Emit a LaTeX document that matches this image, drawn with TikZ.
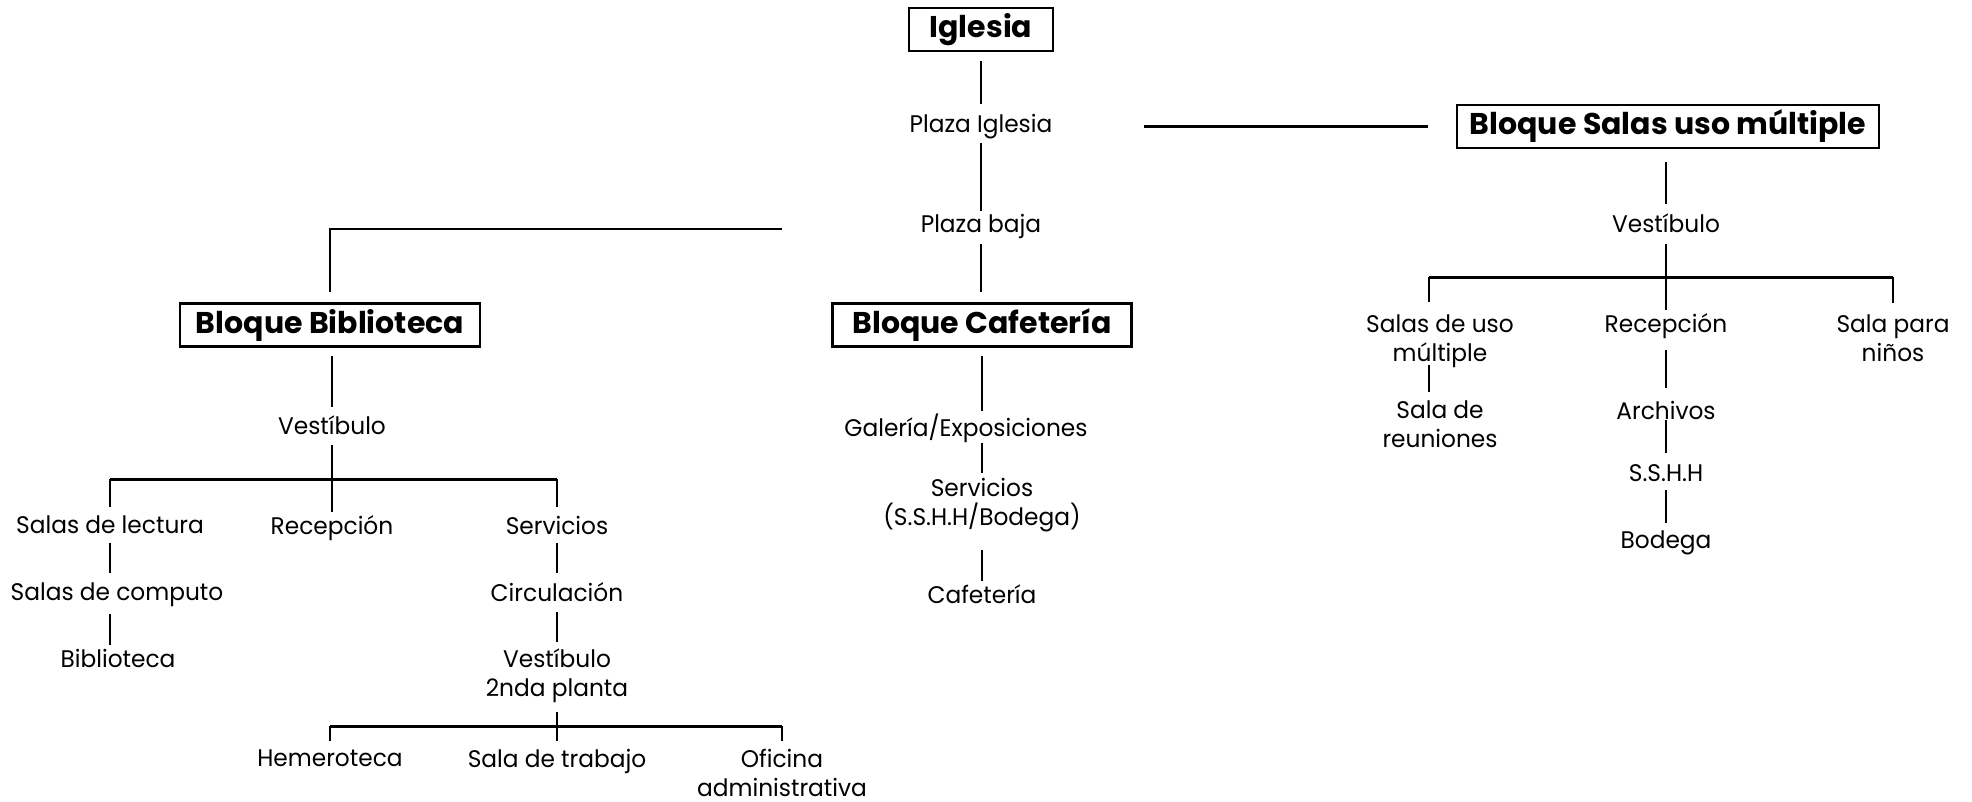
\documentclass[tikz,border=0pt]{standalone}
\usepackage{fontspec}
\setmainfont{Poppins}[FakeStretch=0.97]
\newfontfamily\headfont{Poppins}[FakeStretch=1.0]
\begin{document}
\begin{tikzpicture}[x=1pt,y=-1pt,
  every node/.style={inner sep=0pt, outer sep=0pt},
  lbl/.style={align=center, text depth=0pt, font=\fontsize{24}{29}\selectfont},
  block/.style={draw, line width=2.5pt, minimum height=43pt,
    font=\headfont\bfseries\fontsize{30}{34}\selectfont},
  link/.style={line width=2.4pt},
  bar/.style={line width=3pt},
  gap/.style 2 args={link, shorten <=#1, shorten >=#2}]
\useasboundingbox (0,0) rectangle (1972,801);

% central spine
\node[block, minimum width=144pt] (igl) at (981,29.5) {Iglesia};
\node[lbl] (pig) at (981,123) {Plaza Iglesia};
\node[lbl] (pbj) at (981,223) {Plaza baja};
\node[block, minimum width=299pt] (bcaf) at (982,325) {Bloque Cafetería};
\node[lbl] (gal) at (966,425) {Galería/Exposiciones};
\node[lbl] (serv) at (982,501.5) {Servicios\\(S.S.H.H/Bodega)};
\node[lbl] (caf) at (982,594) {Cafetería};

\draw[gap={31.5pt}{19pt}] (igl.center) -- (pig.center);
\draw[gap={20pt}{12pt}] (pig.center) -- (pbj.center);
\draw[gap={21pt}{33pt}] (pbj.center) -- (bcaf.center -| pbj.center);
\draw[gap={31pt}{14pt}] (bcaf.center) -- (bcaf.center |- gal.center);
\draw[gap={18pt}{28.5pt}] (serv.center |- gal.center) -- (serv.center);
\draw[gap={48.5pt}{13pt}] (serv.center) -- (caf.center);

% multipurpose block
\node[block, minimum width=422pt] (bsum) at (1668,126.5) {Bloque Salas uso múltiple};
\node[lbl] (vr) at (1666,223) {Vestíbulo};
\node[lbl] (sum) at (1440,338) {Salas de uso\\múltiple};
\node[lbl] (recr) at (1666,323) {Recepción};
\node[lbl] (spn) at (1893,338) {Sala para\\niños};
\node[lbl] (sreu) at (1440,424) {Sala de\\reuniones};
\node[lbl] (arch) at (1666,410) {Archivos};
\node[lbl] (sshh) at (1666,473) {S.S.H.H};
\node[lbl] (bod) at (1666,540) {Bodega};
\coordinate (pigR) at (1144,126.5);
\coordinate (rbarL) at (1429,277);
\coordinate (rbarR) at (1893,277);

\draw[gap={0pt}{240pt}] (pigR) -- (bsum.center);
\draw[gap={35.5pt}{19pt}] (bsum.center -| vr.center) -- (vr.center);
\draw[gap={21pt}{13pt}] (vr.center) -- (recr.center);
\draw[bar] (rbarL) -- (rbarR);
\draw[gap={0pt}{36pt}] (rbarL) -- (rbarL |- sum.center);
\draw[gap={0pt}{35pt}] (rbarR) -- (spn.center);
\draw[gap={27pt}{32pt}] (rbarL |- sum.center) -- (rbarL |- sreu.center);
\draw[gap={27pt}{22pt}] (recr.center) -- (arch.center);
\draw[gap={10pt}{20pt}] (arch.center) -- (sshh.center);
\draw[gap={17pt}{17pt}] (sshh.center) -- (bod.center);

% library block
\node[block, minimum width=300pt] (bbib) at (330,325) {Bloque Biblioteca};
\node[lbl] (vl) at (332,425) {Vestíbulo};
\node[lbl] (sl) at (110,525) {Salas de lectura};
\node[lbl] (recl) at (332,525) {Recepción};
\node[lbl] (svl) at (557,525) {Servicios};
\node[lbl] (sc) at (117,592) {Salas de computo};
\node[lbl] (bib) at (118,658) {Biblioteca};
\node[lbl] (circ) at (557,592) {Circulación};
\node[lbl] (v2) at (557,672.5) {Vestíbulo\\2nda planta};
\node[lbl] (hem) at (330,758) {Hemeroteca};
\node[lbl] (st) at (557,758) {Sala de trabajo};
\node[lbl] (ofi) at (782,772.5) {Oficina\\administrativa};
\coordinate (pbjL) at (782,229);
\coordinate (lbarL) at (110,479);
\coordinate (lbarR) at (557,479);
\coordinate (lbar2L) at (330,726);
\coordinate (lbar2R) at (782,726);

\draw[gap={0pt}{33pt}] (pbjL) -| (bbib.center);
\draw[gap={31pt}{18pt}] (bbib.center -| vl.center) -- (vl.center);
\draw[gap={20pt}{13pt}] (vl.center) -- (recl.center);
\draw[bar] (lbarL) -- (lbarR);
\draw[gap={0pt}{18pt}] (lbarL) -- (sl.center);
\draw[gap={0pt}{18pt}] (lbarR) -- (svl.center);
\draw[gap={18pt}{19pt}] (sl.center) -- (sl.center |- sc.center);
\draw[gap={22pt}{13pt}] (sl.center |- sc.center) -- (sl.center |- bib.center);
\draw[gap={18pt}{19pt}] (svl.center) -- (circ.center);
\draw[gap={20pt}{30.5pt}] (circ.center) -- (v2.center);
\draw[gap={39.5pt}{17pt}] (v2.center) -- (st.center);
\draw[bar] (lbar2L) -- (lbar2R);
\draw[gap={0pt}{17pt}] (lbar2L) -- (hem.center);
\draw[gap={0pt}{31.5pt}] (lbar2R) -- (ofi.center);
\end{tikzpicture}
\end{document}
